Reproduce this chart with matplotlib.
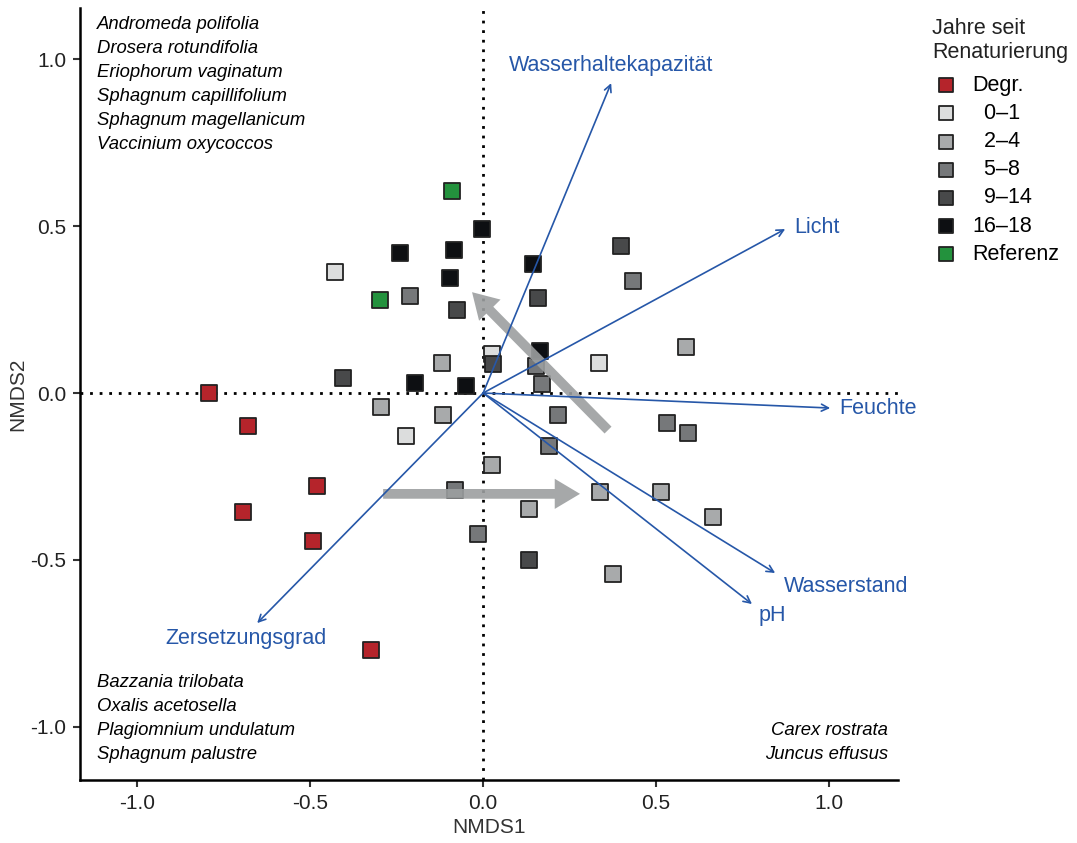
import matplotlib.pyplot as plt
from matplotlib.patches import FancyArrowPatch

# NMDS site scores per group
degr_x = [-0.792, -0.679, -0.480, -0.694, -0.491, -0.324]
degr_y = [0.000, -0.099, -0.278, -0.356, -0.443, -0.769]

y01_x = [-0.428, -0.223, 0.026, 0.335]
y01_y = [0.362, -0.129, 0.117, 0.090]

y24_x = [-0.295, -0.118, -0.116, 0.026, 0.133, 0.338, 0.514, 0.665, 0.376, 0.587]
y24_y = [-0.042, 0.090, -0.066, -0.216, -0.347, -0.296, -0.296, -0.371, -0.542, 0.138]

y58_x = [-0.211, 0.434, 0.153, 0.171, 0.217, 0.191, 0.532, 0.592, -0.081, -0.014]
y58_y = [0.290, 0.335, 0.081, 0.027, -0.066, -0.159, -0.090, -0.120, -0.290, -0.422]

y914_x = [-0.405, -0.075, 0.399, 0.159, 0.029, 0.133]
y914_y = [0.045, 0.248, 0.440, 0.284, 0.087, -0.500]

y1618_x = [-0.003, -0.240, -0.084, -0.095, 0.145, -0.197, -0.049, 0.165]
y1618_y = [0.491, 0.419, 0.428, 0.344, 0.386, 0.030, 0.021, 0.126]

ref_x = [-0.090, -0.298]
ref_y = [0.605, 0.278]

groups = ["Degr.", "\u20070\u20131", "\u20072\u20134", "\u20075\u20138", "\u20079\u201314", "16\u201318", "Referenz"]
group_x = [degr_x, y01_x, y24_x, y58_x, y914_x, y1618_x, ref_x]
group_y = [degr_y, y01_y, y24_y, y58_y, y914_y, y1618_y, ref_y]
group_colors = ["#b5242b", "#dcdddd", "#a8aaab", "#76787a", "#48494a", "#0d0f12", "#23923d"]

# environmental fit vectors
env_names = ["Wasserhaltekapazität", "Licht", "Feuchte", "Wasserstand", "pH", "Zersetzungsgrad"]
env_x = [0.370, 0.873, 1.003, 0.844, 0.777, -0.653]
env_y = [0.928, 0.491, -0.045, -0.539, -0.632, -0.689]
env_lab_x = [0.370, 0.900, 1.030, 0.870, 0.795, -0.685]
env_lab_y = [0.980, 0.495, -0.045, -0.578, -0.665, -0.735]
env_ha = ["center", "left", "left", "left", "left", "center"]

# trend arrows (start x, start y, end x, end y)
trend_arrows = [(0.361, -0.111, -0.032, 0.302), (-0.289, -0.302, 0.280, -0.302)]

species_tl = ["Andromeda polifolia", "Drosera rotundifolia", "Eriophorum vaginatum",
              "Sphagnum capillifolium", "Sphagnum magellanicum", "Vaccinium oxycoccos"]
species_bl = ["Bazzania trilobata", "Oxalis acetosella", "Plagiomnium undulatum", "Sphagnum palustre"]
species_br = ["Carex rostrata", "Juncus effusus"]

plt.rcParams['font.family'] = ['Liberation Sans', 'DejaVu Sans']

fig = plt.figure(figsize=(10.77, 8.43), dpi=100)
ax = fig.add_axes([0.0743, 0.0747, 0.7595, 0.9158])

ax.axhline(0, color="black", linestyle=(0, (1, 2.45)), linewidth=2, zorder=1)
ax.axvline(0, color="black", linestyle=(0, (1, 2.45)), linewidth=2, zorder=1)

for gx, gy, col, lab in zip(group_x, group_y, group_colors, groups):
    ax.scatter(gx, gy, marker="s", s=130, c=col, edgecolors="#222222",
               linewidths=1.3, zorder=3, label=lab)

for x0, y0, x1, y1 in trend_arrows:
    arr = FancyArrowPatch((x0, y0), (x1, y1),
                          arrowstyle="simple,tail_width=0.5,head_width=1.55,head_length=1.3",
                          mutation_scale=14, color="#9c9fa0", alpha=0.9,
                          linewidth=0, zorder=4, shrinkA=0, shrinkB=0)
    ax.add_patch(arr)

blue = "#2657a8"
for name, ex, ey, lx, ly, ha in zip(env_names, env_x, env_y, env_lab_x, env_lab_y, env_ha):
    ax.annotate("", xy=(ex, ey), xytext=(0, 0),
                arrowprops=dict(arrowstyle="->,head_length=0.5,head_width=0.25",
                                color=blue, lw=1.2, shrinkA=0, shrinkB=0), zorder=5)
    ax.text(lx, ly, name, color=blue, fontsize=15.5, ha=ha, va="center", zorder=6)

for i, s in enumerate(species_tl):
    ax.text(0.021, 0.979 - i * 0.0311, s, transform=ax.transAxes, style="italic",
            fontsize=13.3, va="center", ha="left")
for i, s in enumerate(species_bl):
    ax.text(0.021, 0.126 - i * 0.0311, s, transform=ax.transAxes, style="italic",
            fontsize=13.3, va="center", ha="left")
for i, s in enumerate(species_br):
    ax.text(0.988, 0.064 - i * 0.0311, s, transform=ax.transAxes, style="italic",
            fontsize=13.3, va="center", ha="right")

ax.set_xlim(-1.165, 1.199)
ax.set_ylim(-1.159, 1.153)
ax.set_xticks([-1.0, -0.5, 0.0, 0.5, 1.0])
ax.set_yticks([-1.0, -0.5, 0.0, 0.5, 1.0])
ax.set_xticklabels(["-1.0", "-0.5", "0.0", "0.5", "1.0"])
ax.set_yticklabels(["-1.0", "-0.5", "0.0", "0.5", "1.0"])
ax.tick_params(labelsize=15, length=5, width=1.5, color="#333333", pad=5,
               labelcolor="#222222")
ax.spines["top"].set_visible(False)
ax.spines["right"].set_visible(False)
ax.spines["left"].set_linewidth(1.8)
ax.spines["bottom"].set_linewidth(1.8)
ax.set_xlabel("NMDS1", fontsize=15, color="#333333", labelpad=4)
ax.set_ylabel("NMDS2", fontsize=15, color="#333333", labelpad=2)

# legend title drawn separately so its spacing matches the reference
fig.text(932 / 1077, 1 - 18 / 843, "Jahre seit\nRenaturierung", fontsize=15.5,
         color="#222222", ha="left", va="top", linespacing=1.17)
leg = ax.legend(loc="upper left", bbox_to_anchor=(935 / 1077, 1 - 75 / 843),
                bbox_transform=fig.transFigure, frameon=False, fontsize=15.5,
                handletextpad=0.72, labelspacing=0.33, borderpad=0,
                borderaxespad=0, markerscale=0.88, handlelength=1.0)

fig.savefig("out.png", dpi=100)
